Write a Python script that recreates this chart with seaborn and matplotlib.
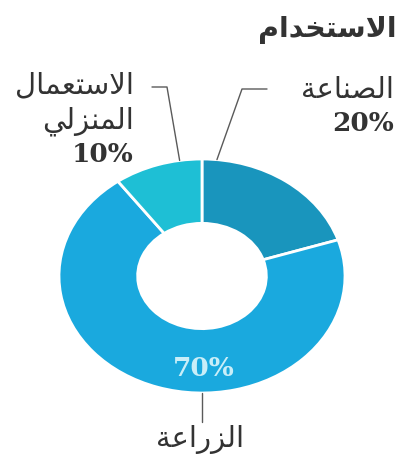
import matplotlib
matplotlib.use("Agg")
import matplotlib.pyplot as plt
import seaborn as sns
import numpy as np

# data
title = "الاستخدام"
categories = ["الصناعة", "الزراعة", "الاستعمال المنزلي"]
shares = [20, 70, 10]
colors = ["#1995bd", "#1aa9de", "#1ebfd5"]

# isolated, final, initial, medial (None = letter does not join to the next one)
FORMS = {
    'ا': ('\uFE8D', '\uFE8E', None, None),
    'د': ('\uFEA9', '\uFEAA', None, None),
    'ر': ('\uFEAD', '\uFEAE', None, None),
    'ز': ('\uFEAF', '\uFEB0', None, None),
    'ة': ('\uFE93', '\uFE94', None, None),
    'ل': ('\uFEDD', '\uFEDE', '\uFEDF', '\uFEE0'),
    'س': ('\uFEB1', '\uFEB2', '\uFEB3', '\uFEB4'),
    'ت': ('\uFE95', '\uFE96', '\uFE97', '\uFE98'),
    'خ': ('\uFEA5', '\uFEA6', '\uFEA7', '\uFEA8'),
    'م': ('\uFEE1', '\uFEE2', '\uFEE3', '\uFEE4'),
    'ص': ('\uFEB9', '\uFEBA', '\uFEBB', '\uFEBC'),
    'ن': ('\uFEE5', '\uFEE6', '\uFEE7', '\uFEE8'),
    'ع': ('\uFEC9', '\uFECA', '\uFECB', '\uFECC'),
    'ي': ('\uFEF1', '\uFEF2', '\uFEF3', '\uFEF4'),
}


def joins_next(ch):
    return ch in FORMS and FORMS[ch][2] is not None


def shape(text):
    """Very small Arabic shaper: contextual forms + lam-alef, then reversed for LTR drawing."""
    out = []
    i = 0
    n = len(text)
    while i < n:
        c = text[i]
        prev = i > 0 and joins_next(text[i - 1])
        if c == 'ل' and i + 1 < n and text[i + 1] == 'ا':
            out.append('\uFEFC' if prev else '\uFEFB')
            i += 2
            continue
        if c not in FORMS:
            out.append(c)
            i += 1
            continue
        nxt = i + 1 < n and text[i + 1] in FORMS and joins_next(c)
        iso, fin, ini, med = FORMS[c]
        if prev and nxt:
            out.append(med)
        elif prev:
            out.append(fin)
        elif nxt:
            out.append(ini)
        else:
            out.append(iso)
        i += 1
    return ''.join(reversed(out))


sns.set_theme(style="white")
plt.rcParams['font.family'] = ['DejaVu Sans']

W, H = 405, 455
fig = plt.figure(figsize=(W / 100, H / 100), dpi=100)
ax = fig.add_axes([0, 0, 1, 1])

ax.pie(shares, colors=sns.color_palette(colors), startangle=90, counterclock=False,
       radius=1.0, wedgeprops=dict(width=0.55, edgecolor="white", linewidth=2))

# elliptical look: 1 unit = 143 px across, 117 px tall; centre at (202, 276) px from top-left
ux, uy, cx, cy = 143.0, 117.0, 202.0, 276.0
ax.set_aspect('auto')
ax.set_xlim(-cx / ux, (W - cx) / ux)
ax.set_ylim(-(H - cy) / uy, cy / uy)
ax.axis('off')


def px(x, y):
    return (x - cx) / ux, (cy - y) / uy


txt = "#333333"
line = "#5a5a5a"
serif = ['DejaVu Serif']
lab_fs = 21
pct_fs = 19

ax.text(*px(397, 30), shape(title), ha='right', va='center', fontsize=20.5,
        fontweight='bold', color=txt)

# industry label + leader
ax.text(*px(394, 90), shape(categories[0]), ha='right', va='center', fontsize=lab_fs, color=txt)
ax.text(*px(394, 124), f"{shares[0]}%", ha='right', va='center', fontsize=pct_fs,
        fontweight='bold', family=serif, color=txt)
a = np.deg2rad(84)
ax.plot([np.cos(a), px(242, 89)[0], px(267, 89)[0]],
        [np.sin(a), px(242, 89)[1], px(267, 89)[1]], color=line, lw=1)

# domestic label + leader
dom = categories[2].split(" ")
ax.text(*px(134, 85), shape(dom[0]), ha='right', va='center', fontsize=lab_fs, color=txt)
ax.text(*px(134, 121), shape(dom[1]), ha='right', va='center', fontsize=lab_fs, color=txt)
ax.text(*px(134, 155), f"{shares[2]}%", ha='right', va='center', fontsize=pct_fs,
        fontweight='bold', family=serif, color=txt)
a = np.deg2rad(99)
ax.plot([np.cos(a), px(167, 87)[0], px(152, 87)[0]],
        [np.sin(a), px(167, 87)[1], px(152, 87)[1]], color=line, lw=1)

# agriculture
ax.text(*px(204, 368), f"{shares[1]}%", ha='center', va='center', fontsize=pct_fs,
        fontweight='bold', family=serif, color="#c9eef8")
ax.plot([0, 0], [-1.0, px(202, 422)[1]], color=line, lw=1)
ax.text(*px(200, 440), shape(categories[1]), ha='center', va='center', fontsize=lab_fs, color=txt)

fig.savefig("out.png", dpi=100, facecolor="white")
